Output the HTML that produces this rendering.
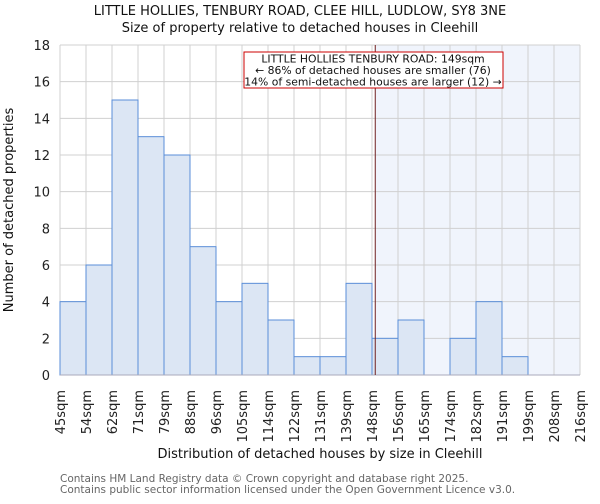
<!DOCTYPE html>
<html><head><meta charset="utf-8"><style>
body{margin:0;background:#fff;font-family:"DejaVu Sans","Liberation Sans",sans-serif}
</style></head><body>
<svg id="c" width="600" height="500" xmlns="http://www.w3.org/2000/svg" font-family="DejaVu Sans, Liberation Sans, sans-serif"></svg>
<script>
const categories=["45sqm","54sqm","62sqm","71sqm","79sqm","88sqm","96sqm","105sqm","114sqm","122sqm","131sqm","139sqm","148sqm","156sqm","165sqm","174sqm","182sqm","191sqm","199sqm","208sqm","216sqm"];
const counts=[4,6,15,13,12,7,4,5,3,1,1,5,2,3,0,2,4,1,0,0];
const yTicks=[0,2,4,6,8,10,12,14,16,18];
const markerValue=149;
const binEdges=[45,54,62,71,79,88,96,105,114,122,131,139,148,156,165,174,182,191,199,208,216];
const svg=document.getElementById('c');
const NS='http://www.w3.org/2000/svg';
const L=60,R=580,T=45,B=375,yMax=18;
const bw=(R-L)/counts.length;
const x=i=>L+i*bw;
const y=v=>B-(v/yMax)*(B-T);
function el(t,a,txt){const e=document.createElementNS(NS,t);for(const k in a)e.setAttribute(k,a[k]);if(txt!=null)e.textContent=txt;svg.appendChild(e);return e;}
let mi=0;while(mi<binEdges.length-2&&markerValue>binEdges[mi+1])mi++;
const mx=x(mi)+bw*(markerValue-binEdges[mi])/(binEdges[mi+1]-binEdges[mi]);
let e=el('rect',{x:mx,y:T,width:R-mx,height:B-T,fill:'#f0f4fc'});


yTicks.forEach(v=>{let g=el('line',{x1:L,x2:R,y1:y(v),y2:y(v),stroke:'#d0d0d0','stroke-width':1});

let t=el('text',{x:L-10,y:y(v)+5,'text-anchor':'end','font-size':13,fill:'#222'},v);
});
categories.forEach((c,i)=>{let g=el('line',{x1:x(i),x2:x(i),y1:T,y2:B,stroke:'#d0d0d0','stroke-width':1});

let t=el('text',{transform:`translate(${x(i)+5},390) rotate(-90)`,'text-anchor':'end','font-size':13,fill:'#222'},c);
});
counts.forEach((v,i)=>{if(v<=0)return;let b=el('rect',{x:x(i),y:y(v),width:bw,height:B-y(v),fill:'#dce6f4',stroke:'#5a8ed8','stroke-width':1});
});
let ax=el('line',{x1:L,x2:R,y1:B,y2:B,stroke:'#aab','stroke-width':1});

let ml=el('line',{x1:mx,x2:mx,y1:T,y2:B,stroke:'#702020','stroke-width':1});

let ab=el('rect',{x:244,y:52,width:259,height:36,fill:'#fff',stroke:'#c00','stroke-width':1});

[["LITTLE HOLLIES TENBURY ROAD: 149sqm",62.5],["← 86% of detached houses are smaller (76)",74],["14% of semi-detached houses are larger (12) →",85.5]].forEach(a=>{
let t=el('text',{x:373,y:a[1],'text-anchor':'middle','font-size':10.8,fill:'#111'},a[0]);
});
let t1=el('text',{x:300,y:15,'text-anchor':'middle','font-size':13,fill:'#111'},'LITTLE HOLLIES, TENBURY ROAD, CLEE HILL, LUDLOW, SY8 3NE');

let t2=el('text',{x:300,y:32,'text-anchor':'middle','font-size':13,fill:'#111'},'Size of property relative to detached houses in Cleehill');

let xt=el('text',{x:320,y:458,'text-anchor':'middle','font-size':13,fill:'#111'},'Distribution of detached houses by size in Cleehill');

let yt=el('text',{transform:'translate(13,210) rotate(-90)','text-anchor':'middle','font-size':13,fill:'#111'},'Number of detached properties');

let f1=el('text',{x:60,y:482,'font-size':10.5,fill:'#666'},'Contains HM Land Registry data © Crown copyright and database right 2025.');

let f2=el('text',{x:60,y:493,'font-size':10.5,fill:'#666'},'Contains public sector information licensed under the Open Government Licence v3.0.');

</script>
</body></html>
